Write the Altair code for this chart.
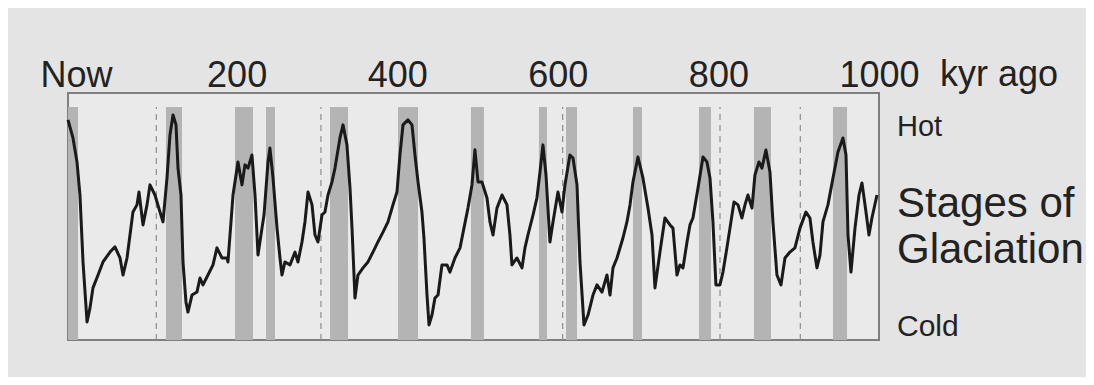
import altair as alt
import pandas as pd

# Time (kyr ago) and relative warmth index (0 = cold, 100 = hot)
kyr = [-10.0, -3.8, 1.2, 4.9, 8.7, 13.7, 17.4, 21.1, 27.4, 33.6, 42.3, 48.5, 54.8, 58.5, 63.5,
       67.2, 70.9, 75.9, 78.4, 83.4, 88.4, 92.1, 98.3, 104.6, 108.3, 113.3, 117.0, 120.8, 124.5,
       127.0, 130.7, 133.2, 136.9, 139.4, 144.4, 150.6, 154.4, 158.1, 164.3, 170.6, 175.5, 181.8,
       188.0, 189.2, 193.0, 195.5, 201.7, 206.7, 210.4, 214.2, 219.1, 222.9, 226.6, 231.6, 234.1,
       239.1, 241.5, 245.3, 250.3, 254.0, 256.5, 260.2, 266.5, 272.7, 276.4, 281.4, 285.1, 288.9,
       293.9, 297.6, 301.3, 306.3, 310.0, 313.8, 318.8, 322.5, 328.7, 332.5, 337.4, 341.2, 343.7,
       347.4, 351.1, 357.4, 363.6, 369.8, 376.0, 382.3, 388.5, 394.7, 399.7, 403.4, 407.2, 413.4,
       418.4, 422.1, 425.9, 430.8, 433.3, 437.1, 439.6, 443.3, 447.0, 450.8, 455.7, 462.0, 465.7,
       471.9, 478.2, 483.1, 488.1, 493.1, 496.8, 500.6, 505.5, 511.8, 515.5, 519.3, 524.2, 530.5,
       536.7, 540.4, 542.9, 549.1, 555.4, 559.1, 562.8, 569.1, 574.0, 577.8, 581.5, 585.3, 590.2,
       594.0, 600.2, 605.2, 608.9, 615.1, 618.9, 623.9, 627.6, 632.6, 637.6, 643.8, 648.8, 655.0,
       661.2, 665.0, 668.7, 673.7, 681.1, 686.1, 689.9, 693.6, 699.8, 706.0, 712.3, 717.3, 721.0,
       727.2, 733.4, 739.7, 743.4, 748.4, 752.1, 755.9, 760.9, 764.6, 768.3, 774.6, 780.8, 785.7,
       789.5, 793.2, 796.9, 801.9, 805.7, 810.6, 814.4, 819.4, 824.4, 829.3, 833.1, 836.8, 841.8,
       845.5, 850.5, 854.2, 859.2, 864.2, 867.9, 872.9, 877.9, 882.9, 889.1, 895.3, 901.6, 909.0,
       914.0, 917.7, 922.7, 926.5, 930.2, 936.4, 942.7, 948.9, 955.1, 958.9, 961.4, 965.1, 970.1,
       975.1, 978.8, 983.8, 987.5, 991.2, 997.5]
warmth = [89.1, 81.8, 72.1, 58.7, 31.6, 7.3, 13.0, 21.1, 26.3, 31.6, 35.6, 37.7, 33.2, 26.3, 33.2,
          42.5, 51.8, 54.7, 59.9, 46.6, 54.7, 62.8, 58.7, 51.8, 47.8, 65.6, 83.0, 91.1, 87.1,
          69.6, 58.7, 31.6, 15.4, 11.3, 18.2, 19.4, 25.1, 22.3, 26.3, 30.4, 37.3, 33.2,
          33.2, 31.6, 47.8, 58.7, 72.1, 62.8, 70.9, 69.6, 74.9, 58.7, 34.4, 45.3, 50.6,
          72.1, 77.7, 65.6, 45.3, 33.2, 26.3, 31.6, 30.4, 35.6, 31.6, 39.7, 47.8, 59.9,
          54.7, 42.5, 39.7, 50.6, 51.8, 58.7, 64.0, 69.6, 81.8, 87.1, 79.0, 61.5, 45.3,
          17.0, 26.3, 29.2, 31.6, 35.6, 39.7, 43.7, 47.8, 54.7, 59.9, 74.9, 87.1, 89.1,
          87.1, 74.9, 64.0, 51.8, 41.3, 18.2, 6.1, 10.1, 17.0, 18.2, 30.4, 30.4, 27.5,
          33.2, 37.3, 45.3, 53.4, 62.8, 77.0, 64.0, 64.0, 57.5, 47.8, 42.5, 53.4, 58.7,
          54.7, 42.5, 30.4, 33.2, 29.2, 37.3, 42.5, 50.6, 57.5, 68.0, 79.0, 66.8, 39.7,
          47.8, 59.9, 51.8, 62.8, 74.9, 73.7, 62.8, 31.6, 6.1, 10.1, 18.2, 22.3, 19.4,
          26.3, 18.2, 29.2, 33.2, 41.3, 47.8, 54.7, 64.0, 74.1, 65.6, 53.4, 42.5, 21.1,
          35.6, 49.4, 46.6, 45.3, 26.3, 30.4, 29.2, 39.7, 46.6, 49.4, 61.5, 74.1, 72.1,
          65.6, 47.8, 22.3, 22.3, 27.5, 37.3, 45.3, 55.9, 54.7, 49.4, 54.7, 58.7, 53.4,
          66.8, 72.1, 69.6, 76.9, 68.0, 47.8, 26.3, 22.3, 33.2, 35.6, 37.3, 45.3, 51.8,
          49.4, 39.7, 29.2, 34.4, 47.8, 54.7, 65.6, 76.1, 81.8, 74.9, 42.5, 27.5, 45.3,
          58.7, 63.6, 51.8, 42.5, 49.4, 58.7]

# Shaded warm stages (kyr ago)
band_start = [-10.0, 112.0, 198.0, 236.6, 316.3, 401.0, 491.8, 576.5, 610.2, 693.6, 775.8, 844.3, 942.7]
band_end = [2.5, 132.0, 220.4, 247.8, 338.7, 425.9, 508.0, 586.5, 623.9, 704.8, 790.7, 865.5, 960.2]

# Dashed reference lines (kyr ago)
dash_kyr = [100, 305, 606, 802, 902]

# Top axis ticks
tick_values = [0, 200, 400, 600, 800, 1000]

band_top = 94.3

curve = pd.DataFrame({"kyr": kyr, "warmth": warmth})
bands = pd.DataFrame({"start": band_start, "end": band_end,
                      "lo": [0.0] * len(band_start), "hi": [band_top] * len(band_start)})
dashes = pd.DataFrame({"kyr": dash_kyr, "lo": [0.0] * len(dash_kyr), "hi": [band_top] * len(dash_kyr)})

xscale = alt.Scale(domain=[-10, 1000], nice=False, zero=False)
yscale = alt.Scale(domain=[0, 100], nice=False, zero=False)

FONT = "Liberation Sans"
TXT = "#222222"

band_layer = alt.Chart(bands).mark_rect(color="#b4b4b4").encode(
    x=alt.X("start:Q", scale=xscale,
            axis=alt.Axis(orient="top", values=tick_values, title=None, ticks=False, domain=False,
                          grid=False, labelFontSize=36, labelFont=FONT, labelColor=TXT,
                          labelExpr="datum.value == 0 ? 'Now' : datum.label",
                          labelBaseline="alphabetic", labelPadding=7, format="d",
                          labelOverlap=False, labelFlush=False)),
    x2="end:Q",
    y=alt.Y("lo:Q", scale=yscale, axis=None),
    y2="hi:Q",
)

dash_layer = alt.Chart(dashes).mark_rule(color="#8e8e8e", strokeWidth=1.2, strokeDash=[6, 5]).encode(
    x=alt.X("kyr:Q", scale=xscale),
    y=alt.Y("lo:Q", scale=yscale, axis=None),
    y2="hi:Q",
)

line_layer = alt.Chart(curve).mark_line(color="#1a1a1a", strokeWidth=3, strokeJoin="round").encode(
    x=alt.X("kyr:Q", scale=xscale),
    y=alt.Y("warmth:Q", scale=yscale, axis=None),
)


def label(text, x, y, size):
    return alt.Chart(pd.DataFrame({"t": [text]})).mark_text(
        font=FONT, fontSize=size, color=TXT, align="left", baseline="alphabetic"
    ).encode(x=alt.value(x), y=alt.value(y), text="t:N")


chart = alt.layer(
    band_layer,
    dash_layer,
    line_layer,
    label("kyr ago", 872, -7, 36),
    label("Hot", 829, 43, 29),
    label("Stages of", 829, 124, 42),
    label("Glaciation", 829, 170, 42),
    label("Cold", 829, 243, 30),
).properties(
    width=811,
    height=247,
    autosize=alt.AutoSizeParams(type="none"),
    padding={"left": 60, "top": 85, "right": 207, "bottom": 37},
    background="#e4e4e4",
).configure_view(
    stroke="#7f7f7f", strokeWidth=2, fill="#eaeaea"
)

chart.save("out.html", embed_options={"renderer": "svg", "actions": False})
